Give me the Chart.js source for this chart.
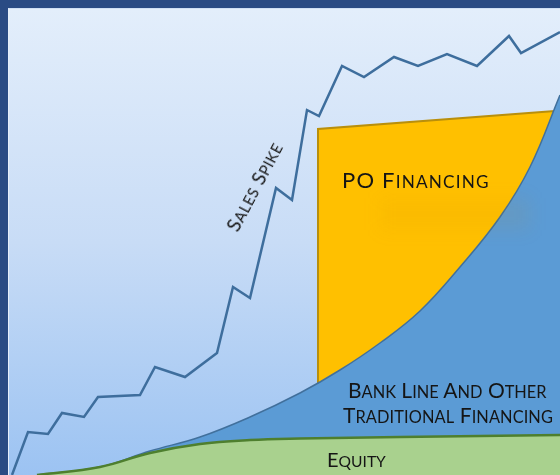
<!DOCTYPE html>
<html>
<head>
<meta charset="utf-8">
<script src="https://cdn.jsdelivr.net/npm/chart.js@4/dist/chart.umd.min.js"></script>
<style>
    html, body { margin: 0; padding: 0; }
    body { width: 560px; height: 475px; background: #2A4B84; position: relative; overflow: hidden; }
    #frame {
        position: absolute; left: 8px; top: 8px; width: 552px; height: 467px;
        border-left: 1px solid #e6eefa; border-top: 1px solid #cfdff4;
        box-sizing: border-box;
        background: linear-gradient(to bottom, #E3EEFB 0%, #C8DCF6 50%, #9CC3F2 100%);
    }
    #chart { position: absolute; left: 9px; top: 9px; }
    .lbl {
        position: absolute; font-family: Lato, sans-serif;
        color: #151515; line-height: 1; white-space: nowrap;
    }
    .sc { text-transform: uppercase; font-size: 0.78em; }
    #glow {
        position: absolute; left: 380px; top: 198px; width: 150px; height: 32px;
        background: rgba(205, 140, 0, 0.08); filter: blur(9px);
    }
</style>
</head>
<body>
<div id="frame"></div>
<canvas id="chart" width="551" height="466"></canvas>
<div id="glow"></div>
<div class="lbl" style="left:342px; top:169px; font-size:22px; letter-spacing:1.2px;">PO F<span class="sc">inancing</span></div>
<div class="lbl" style="left:348px; top:379px; font-size:21px; letter-spacing:0px;">B<span class="sc">ank</span> L<span class="sc">ine</span> A<span class="sc">nd</span> O<span class="sc">ther</span></div>
<div class="lbl" style="left:343px; top:404px; font-size:21px; letter-spacing:0.1px;">T<span class="sc">raditional</span> F<span class="sc">inancing</span></div>
<div class="lbl" style="left:327px; top:449px; font-size:20px; letter-spacing:0px;">E<span class="sc">quity</span></div>
<div class="lbl" style="left:199px; top:177px; width:110px; text-align:center; font-size:19px; letter-spacing:0.6px; transform: rotate(-62deg); transform-origin: 50% 50%;">S<span class="sc">ales</span> S<span class="sc">pike</span></div>

<script>
// valori (x = tempo, y = importo)
const salesX = [3, 19, 39, 53, 75, 89, 131, 146, 176, 208, 224, 241, 267, 283, 298, 310, 333, 355, 385, 409, 438, 468, 500, 512, 551];
const salesY = [0, 43, 41, 62, 58, 78, 80, 108, 98, 122, 188, 177, 287, 275, 365, 359, 409, 398, 418, 409, 421, 409, 439, 422, 443];

const equityX = [28, 91, 141, 191, 241, 291, 391, 551];
const equityY = [0, 8, 22, 31, 35, 36.5, 38, 40];

const bankX = [28, 91, 141, 191, 241, 291, 331, 371, 411, 451, 491, 521, 551];
const bankY = [0, 8, 24, 38, 58, 82, 105, 132, 164, 208, 258, 308, 380];

const poX = [309, 309, 546];
const poY = [91, 346, 364];

function toPoints(xs, ys) {
    return xs.map((x, i) => ({ x: x, y: ys[i] }));
}

const ctx = document.getElementById("chart").getContext("2d");

new Chart(ctx, {
    type: "line",
    data: {
        datasets: [
            {
                label: "Sales Spike",
                data: toPoints(salesX, salesY),
                borderColor: "#3E6E9D",
                borderWidth: 2.5,
                fill: false,
                tension: 0,
                pointRadius: 0
            },
            {
                label: "Equity",
                data: toPoints(equityX, equityY),
                borderColor: "#4E7F2E",
                borderWidth: 2.5,
                backgroundColor: "#A9D18E",
                fill: "origin",
                tension: 0.4,
                pointRadius: 0
            },
            {
                label: "Bank Line And Other Traditional Financing",
                data: toPoints(bankX, bankY),
                borderColor: "#41709C",
                borderWidth: 1.5,
                backgroundColor: "#5B9BD5",
                fill: "origin",
                tension: 0.4,
                pointRadius: 0
            },
            {
                label: "PO Financing",
                data: toPoints(poX, poY),
                borderColor: "#B98F0B",
                borderWidth: 2,
                backgroundColor: "#FFC000",
                fill: 2,
                tension: 0,
                pointRadius: 0
            }
        ]
    },
    options: {
        responsive: false,
        animation: false,
        layout: { padding: 0 },
        plugins: {
            legend: { display: false },
            tooltip: { enabled: false }
        },
        scales: {
            x: { type: "linear", min: 0, max: 551, display: false },
            y: { min: 0, max: 466, display: false }
        }
    }
});
</script>
</body>
</html>
